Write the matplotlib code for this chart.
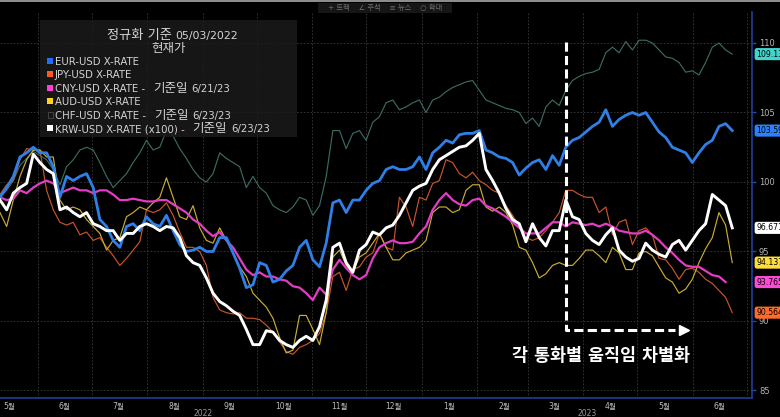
import matplotlib
matplotlib.use('Agg')
import matplotlib.pyplot as plt
import matplotlib.dates as mdates
from matplotlib.ticker import FuncFormatter, NullFormatter
from matplotlib.patches import Rectangle
import numpy as np
import pandas as pd

plt.rcParams['font.family'] = ['DejaVu Sans', 'Noto Sans CJK KR']

nan = np.nan
dates = pd.date_range('2022-05-11', '2023-06-23', periods=111)

krw = [98.7, 98.0, 99.2, 99.6, 99.9, 102.0, 101.4, 100.9, 100.6, 98.0,
       98.2, 97.8, 97.5, 97.8, 97.0, 96.8, 96.5, 96.5, 95.8, 96.3,
       96.3, 96.8, 97.0, 96.8, 96.5, 96.8, 96.7, 96.0, 94.7, 94.2,
       94.0, 93.1, 92.0, 91.4, 91.1, 90.7, 90.4, 89.4, 88.3, 88.3,
       89.3, 89.2, 88.6, 88.3, 88.1, 88.6, 88.9, 88.6, 89.6, 91.5,
       95.3, 95.6, 94.2, 93.5, 95.1, 95.5, 96.4, 96.2, 96.7, 96.9,
       97.6, 98.5, 99.4, 99.7, 99.9, 100.9, 101.6, 101.9, 102.2, 102.5,
       102.6, 103.0, 103.5, 100.9, 100.1, 99.2, 98.1, 97.3, 97.0, 95.7,
       97.0, 96.0, 95.4, 96.5, 96.5, 98.7, 97.5, 97.3, 96.3, 95.8,
       95.5, 96.2, 96.7, 95.1, 94.6, 94.3, 94.5, 95.6, 95.1, 94.8,
       94.6, 95.5, 95.8, 95.1, 95.8, 96.5, 97.0, 99.1, 98.7, 98.3,
       96.7]
eur = [98.9, 99.6, 100.4, 101.8, 102.1, 102.5, 102.1, 102.1, 101.1, 98.9,
       100.4, 100.1, 100.4, 100.6, 99.6, 97.3, 96.8, 95.8, 95.3, 96.8,
       97.0, 96.5, 97.5, 97.0, 96.8, 97.6, 96.5, 95.5, 95.0, 95.1,
       95.3, 95.0, 95.0, 96.0, 96.0, 94.9, 93.8, 92.4, 92.6, 94.2,
       94.0, 92.8, 93.0, 93.6, 94.0, 95.3, 95.8, 94.4, 93.9, 95.6,
       98.5, 98.7, 97.8, 98.7, 98.7, 99.4, 99.9, 100.1, 100.9, 101.1,
       100.9, 100.9, 101.1, 101.8, 100.9, 102.1, 102.5, 103.0, 102.8, 103.4,
       103.5, 103.5, 103.7, 102.3, 102.1, 101.8, 101.7, 101.4, 100.5, 101.0,
       101.4, 101.6, 100.9, 101.9, 101.2, 102.5, 103.0, 103.2, 103.6, 104.0,
       104.3, 105.2, 104.0, 104.5, 104.8, 105.0, 104.8, 105.0, 104.3, 103.6,
       103.2, 102.5, 102.3, 102.1, 101.4, 102.1, 102.7, 103.0, 104.0, 104.2,
       103.7]
cny = [98.9, 98.7, 98.8, 99.4, 99.2, 99.6, 99.9, 100.1, 99.9, 99.2,
       99.4, 99.6, 99.4, 99.4, 99.2, 99.4, 99.4, 99.1, 98.7, 98.7,
       98.8, 98.7, 98.6, 98.6, 98.7, 98.7, 98.4, 98.1, 97.8, 97.3,
       97.0, 96.5, 96.1, 96.4, 95.8, 95.3, 94.5, 93.7, 93.3, 93.5,
       93.2, 93.2, 93.0, 92.9, 92.5, 92.4, 92.0, 91.5, 92.4, 91.9,
       93.7, 94.4, 93.8, 93.3, 93.0, 93.3, 94.5, 95.3, 95.6, 95.8,
       95.6, 95.6, 95.7, 96.3, 96.8, 98.0, 98.7, 99.2, 98.7, 98.4,
       98.3, 98.7, 98.8, 98.3, 98.1, 97.8, 97.5, 97.1, 96.7, 96.3,
       96.3, 96.3, 96.7, 97.1, 97.1, 96.8, 97.1, 97.0, 96.9, 97.0,
       96.8, 97.0, 96.8, 96.5, 96.4, 96.3, 96.3, 96.5, 96.2, 95.8,
       95.3, 94.9, 94.4, 94.0, 93.9, 93.9, 93.6, 93.3, 93.2, 92.8,
       nan]
jpy = [99.1, 99.8, 100.1, 101.6, 102.4, 102.3, 102.3, 99.4, 98.0, 97.1,
       96.9, 97.1, 96.2, 96.4, 95.8, 96.0, 95.3, 94.7, 94.0, 94.5,
       95.1, 95.7, 98.0, 97.8, 98.0, 98.5, 97.6, 96.4, 95.3, 95.3,
       95.0, 94.0, 91.7, 90.8, 90.6, 90.5, 90.6, 90.2, 90.2, 90.1,
       89.7, 89.2, 88.5, 87.8, 87.6, 88.1, 88.3, 88.6, 89.1, 90.6,
       93.2, 93.5, 92.2, 93.7, 93.9, 94.6, 94.9, 96.3, 95.3, 95.1,
       98.9, 98.2, 96.8, 98.9, 98.7, 99.9, 100.1, 101.6, 101.4, 100.6,
       100.3, 100.7, 100.1, 99.8, 99.4, 99.2, 98.3, 97.6, 96.8, 96.0,
       95.8, 96.0, 96.5, 97.1, 97.8, 99.4, 99.4, 99.1, 98.9, 98.9,
       97.8, 98.2, 96.2, 97.1, 97.3, 95.5, 96.5, 96.7, 96.2, 94.5,
       94.4, 93.8, 93.0, 93.7, 93.8, 93.5, 93.0, 92.7, 92.2, 91.7,
       90.6]
aud = [97.8, 96.8, 98.7, 100.4, 101.6, 102.3, 102.3, 101.8, 101.8, 98.7,
       98.0, 98.2, 98.0, 97.3, 96.8, 96.3, 95.1, 95.8, 96.0, 97.5,
       97.8, 98.2, 98.0, 98.5, 98.9, 100.3, 98.9, 97.5, 97.3, 98.3,
       96.7, 95.8, 95.6, 96.7, 95.8, 94.9, 93.9, 93.2, 92.0, 91.5,
       91.0, 90.2, 88.8, 87.7, 87.9, 90.4, 90.4, 89.4, 88.3, 90.6,
       94.6, 95.1, 94.0, 93.5, 94.6, 94.9, 95.6, 96.3, 95.3, 94.4,
       94.4, 94.9, 95.1, 95.3, 95.8, 97.8, 98.2, 98.2, 97.8, 98.0,
       99.4, 99.8, 99.8, 98.2, 97.9, 98.2, 97.8, 96.9, 95.3, 95.1,
       94.2, 93.1, 93.4, 94.0, 94.2, 94.0, 94.0, 94.5, 95.1, 95.1,
       94.7, 94.2, 95.3, 94.9, 93.7, 93.7, 94.9, 95.0, 94.7, 93.9,
       93.1, 92.8, 92.0, 92.3, 93.0, 94.2, 95.2, 96.0, 97.8, 96.9,
       94.2]
chf = [98.9, 99.4, 100.1, 101.2, 101.7, 102.2, 101.9, 101.6, 100.9, 99.8,
       101.1, 101.6, 102.3, 102.5, 102.3, 101.4, 100.4, 99.6, 100.1, 100.6,
       101.4, 102.1, 103.0, 102.3, 102.5, 103.7, 103.3, 102.4, 101.7, 100.9,
       100.3, 100.0, 100.6, 102.1, 101.7, 101.4, 101.1, 99.6, 100.4, 99.6,
       99.2, 98.3, 98.0, 97.8, 98.2, 98.9, 98.7, 97.6, 98.3, 100.4,
       103.7, 103.7, 102.4, 103.5, 103.7, 103.0, 104.3, 104.7, 105.7, 105.9,
       105.2, 105.4, 105.7, 105.9, 105.0, 105.9, 106.1, 106.5, 106.8, 107.0,
       107.2, 107.3, 106.6, 105.9, 105.7, 105.5, 105.3, 105.2, 105.0, 104.2,
       104.6, 104.0, 105.4, 105.9, 105.5, 106.6, 107.3, 107.6, 107.8, 107.9,
       108.1, 109.3, 109.7, 109.3, 110.1, 109.5, 110.2, 110.2, 110.0, 109.5,
       109.0, 108.9, 108.6, 107.9, 108.0, 107.7, 108.6, 109.7, 110.0, 109.5,
       109.2]

legend_labels = ['EUR-USD X-RATE', 'JPY-USD X-RATE', 'CNY-USD X-RATE',
                 'AUD-USD X-RATE', 'CHF-USD X-RATE', 'KRW-USD X-RATE (x100)']
legend_basedates = ['', '', '6/21/23', '', '6/23/23', '6/23/23']
last_values = ['103.59', '90.564', '93.765', '94.137', '109.13', '96.671']
yticks = [85, 90, 95, 100, 105, 110]

series = [eur, jpy, cny, aud, chf, krw]
line_colors = ['#2f7fe6', '#c9542c', '#e23dc4', '#c9ad30', '#3a6a62', '#ffffff']
line_widths = [2.0, 0.85, 1.6, 0.85, 0.85, 2.1]
draw_order = [4, 1, 3, 2, 0, 5]
marker_colors = ['#1f6fff', '#ff5a22', '#ff40d4', '#ffd21e', None, '#ffffff']
tag_colors = ['#2b80ff', '#ff6a2a', '#ff4ad8', '#ffdc3a', '#40d6cc', '#ffffff']

W, H = 780, 417
fig = plt.figure(figsize=(7.8, 4.17), dpi=100, facecolor='black')
ax = fig.add_axes([0, 1 - 398 / H, 752 / W, (398 - 12) / H])
ax.set_facecolor('black')

def fx(x):
    return x / W

def fy(y):
    return 1 - y / H

for i in draw_order:
    ax.plot(dates, series[i], color=line_colors[i], lw=line_widths[i],
            solid_joinstyle='round', zorder=3 + draw_order.index(i) * 0.1)

ax.set_xlim(pd.Timestamp('2022-05-11'), pd.Timestamp('2023-07-04'))
ax.set_ylim(84.46, 112.23)

ax.yaxis.tick_right()
ax.set_yticks(yticks)
ax.set_yticklabels([str(v) for v in yticks])
ax.tick_params(axis='y', colors='#2848a8', labelcolor='#b5b5b5',
               labelsize=6, length=3, width=1, pad=2)

ax.xaxis.set_major_locator(mdates.MonthLocator())
ax.xaxis.set_major_formatter(NullFormatter())
ax.xaxis.set_minor_locator(mdates.MonthLocator(bymonthday=16))
ax.xaxis.set_minor_formatter(FuncFormatter(lambda v, p: f'{mdates.num2date(v).month}월'))
ax.tick_params(axis='x', which='both', length=0)
ax.tick_params(axis='x', which='minor', labelsize=5.5, labelcolor='#bdbdbd', pad=3)

ax.grid(True, which='major', color='#3a3a3a', ls=(0, (2, 2)), lw=0.6)
ax.set_axisbelow(True)
for s in ['top', 'left']:
    ax.spines[s].set_visible(False)
for s in ['right', 'bottom']:
    ax.spines[s].set_color('#1f3f99')
    ax.spines[s].set_linewidth(1.2)

fig.text(fx(203), fy(413), '2022', color='#9a9a9a', fontsize=5.5, ha='center', va='center')
fig.text(fx(587), fy(413), '2023', color='#9a9a9a', fontsize=5.5, ha='center', va='center')

# value tags on the right axis
for i, s in enumerate(series):
    vals = [v for v in s if not np.isnan(v)]
    ax.annotate(last_values[i], xy=(1, vals[-1]), xycoords=('axes fraction', 'data'),
                xytext=(3, 0), textcoords='offset points', ha='left', va='center',
                fontsize=5.6, color='#000000', annotation_clip=False, zorder=8,
                bbox=dict(boxstyle='round,pad=0.2,rounding_size=0.3', fc=tag_colors[i], ec='none'))

# dashed annotation
d_line = pd.Timestamp('2023-03-22 12:00')
d_end = pd.Timestamp('2023-05-22')
d_tip = pd.Timestamp('2023-05-27')
ax.plot([d_line, d_line, d_end], [110.05, 89.35, 89.35], color='white', lw=2.2,
        ls=(0, (3, 1.4)), zorder=6)
ax.plot([d_tip], [89.35], marker='>', ms=7, color='white', mec='white', zorder=6)
fig.text(fx(601), fy(356), '각 통화별 움직임 차별화', color='white', fontsize=12.5,
         fontweight='bold', ha='center', va='center')

# top bar
fig.add_artist(Rectangle((0, fy(2)), 1, 2 / H, transform=fig.transFigure,
                         fc='#8c8c8c', ec='none'))
fig.add_artist(Rectangle((fx(318), fy(13)), 134 / W, 10 / H, transform=fig.transFigure,
                         fc='#161616', ec='none'))
fig.text(fx(385), fy(7), '+ 트랙    ∠ 주석    ≡ 뉴스    ○ 확대', color='#707070',
         fontsize=5.2, ha='center', va='center')

# legend panel
fig.add_artist(Rectangle((fx(40), fy(137)), 257 / W, 117 / H, transform=fig.transFigure,
                         fc='#1b1b1b', ec='none', alpha=0.85))
txt_c = '#d4d4d4'
fig.text(fx(172), fy(39), '정규화 기준', color=txt_c, fontsize=9.5, ha='right', va='baseline')
fig.text(fx(175), fy(39), '05/03/2022', color=txt_c, fontsize=7.8, ha='left', va='baseline')
fig.text(fx(169), fy(52), '현재가', color=txt_c, fontsize=9, ha='center', va='baseline')

renderer = fig.canvas.get_renderer()
baselines = [65, 78, 92, 105, 119, 132]
for i, lab in enumerate(legend_labels):
    b = baselines[i]
    if marker_colors[i] is None:
        fig.add_artist(Rectangle((fx(47.5), fy(63.5 + (b - 65))), 5 / W, 5 / H,
                                 transform=fig.transFigure, fc='none', ec='#4a4a4a', lw=0.6))
    else:
        fig.add_artist(Rectangle((fx(47), fy(64 + (b - 65))), 6 / W, 6 / H,
                                 transform=fig.transFigure, fc=marker_colors[i], ec='none'))
    text = lab + (' -' if legend_basedates[i] else '')
    t = fig.text(fx(55), fy(b), text, color=txt_c, fontsize=7.3, ha='left', va='baseline')
    if legend_basedates[i]:
        bb = t.get_window_extent(renderer)
        t2 = fig.text((bb.x1 + 8) / W, fy(b), '기준일', color=txt_c, fontsize=9,
                      ha='left', va='baseline')
        bb2 = t2.get_window_extent(renderer)
        fig.text((bb2.x1 + 4) / W, fy(b), legend_basedates[i], color=txt_c, fontsize=7.3,
                 ha='left', va='baseline')

fig.savefig('out.png', dpi=100, facecolor='black')
